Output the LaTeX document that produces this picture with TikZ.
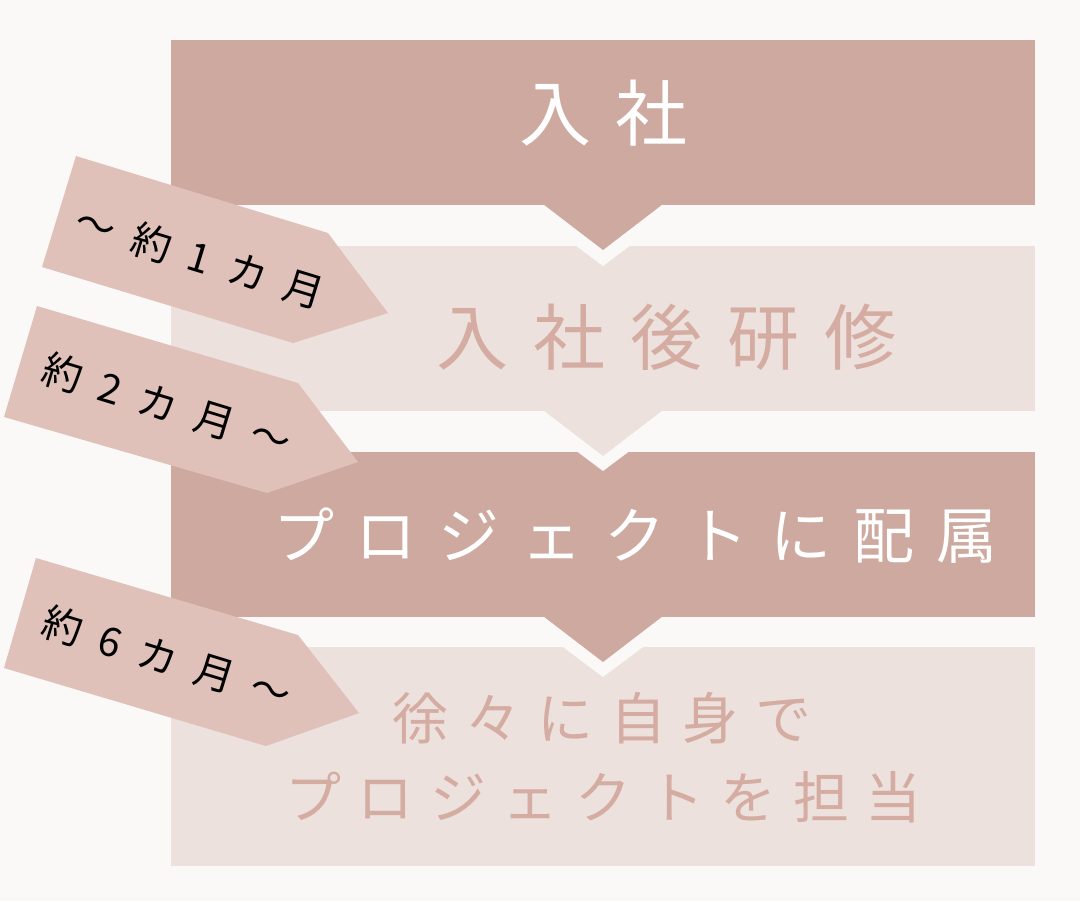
\documentclass[tikz,border=0pt]{standalone}
\usepackage{fontspec}
\setmainfont{Noto Sans CJK JP}
\definecolor{bgc}{HTML}{FAF9F8}
\definecolor{darkbox}{HTML}{CEA99F}
\definecolor{lightbox}{HTML}{EDE1DE}
\definecolor{tagc}{HTML}{DFC1B9}
\definecolor{softtext}{HTML}{D4ACA1}
\tikzset{
  dbox/.style={fill=darkbox},
  lbox/.style={fill=lightbox},
  notch/.style={fill=bgc},
  tagshape/.style={fill=tagc},
  maintext/.style={inner sep=0pt, anchor=center},
  tagtext/.style={inner sep=0pt, anchor=center, rotate=-17, text=black, font=\fontsize{30}{32}\selectfont},
}
\newcommand\tg{\hspace{14pt}}
\begin{document}
\begin{tikzpicture}[x=0.75pt,y=-0.75pt]
\useasboundingbox (0,0) rectangle (1080,901);
\fill[bgc] (0,0) rectangle (1080,901);
% box 1
\fill[dbox] (171,40) rectangle (1035,205);
% box 2
\fill[lbox] (171,246) rectangle (1035,411);
\fill[notch] (543,205) -- (543,221) -- (603,266) -- (663,221) -- (663,205) -- cycle;
\fill[dbox] (543,204) -- (603,250) -- (663,204) -- cycle;
% box 3
\fill[dbox] (171,452) rectangle (1035,617);
\fill[notch] (543,411) -- (543,426) -- (603,471) -- (663,426) -- (663,411) -- cycle;
\fill[lbox] (543,410) -- (603,456) -- (663,410) -- cycle;
% box 4
\fill[lbox] (171,647) rectangle (1035,866);
\fill[notch] (543,617) -- (543,632) -- (603,677) -- (663,632) -- (663,617) -- cycle;
\fill[dbox] (543,616) -- (603,662) -- (663,616) -- cycle;
% main texts
\node[maintext, text=white, font=\fontsize{54}{60}\selectfont] (t1) at (603.5,113.5) {入\hspace{18.75pt}社};
\node[maintext, text=softtext, font=\fontsize{54}{60}\selectfont] (t2) at (666.5,337.5) {入\hspace{18.75pt}社\hspace{18.75pt}後\hspace{18.75pt}研\hspace{18.75pt}修};
\node[maintext, text=white, font=\fontsize{45.75}{50}\selectfont] (t3) at (635.5,535.5) {プ\hspace{16.5pt}ロ\hspace{16.5pt}ジ\hspace{16.5pt}ェ\hspace{16.5pt}ク\hspace{16.5pt}ト\hspace{16.5pt}に\hspace{16.5pt}配\hspace{16.5pt}属};
\node[maintext, text=softtext, font=\fontsize{42}{46}\selectfont] (t4a) at (602,718) {徐\hspace{12.4pt}々\hspace{12.4pt}に\hspace{12.4pt}自\hspace{12.4pt}身\hspace{12.4pt}で};
\node[maintext, text=softtext, font=\fontsize{42}{46}\selectfont] (t4b) at (603.5,797) {プ\hspace{12.4pt}ロ\hspace{12.4pt}ジ\hspace{12.4pt}ェ\hspace{12.4pt}ク\hspace{12.4pt}ト\hspace{12.4pt}を\hspace{12.4pt}担\hspace{12.4pt}当};
% tags
\fill[tagshape] (76,156) -- (328,233) -- (388,313) -- (293,343) -- (42,267) -- cycle;
\fill[tagshape] (37,306) -- (298,383) -- (358,462) -- (267,493) -- (4,417) -- cycle;
\fill[tagshape] (36,558) -- (298,635) -- (359,713) -- (266,746) -- (4,668) -- cycle;
\node[tagtext] (g1) at (200,257) {～\tg 約\tg 1\tg カ\tg 月};
\node[tagtext] (g2) at (167,405) {約\tg 2\tg カ\tg 月\tg ～};
\node[tagtext] (g3) at (167,658) {約\tg 6\tg カ\tg 月\tg ～};
\end{tikzpicture}
\end{document}
